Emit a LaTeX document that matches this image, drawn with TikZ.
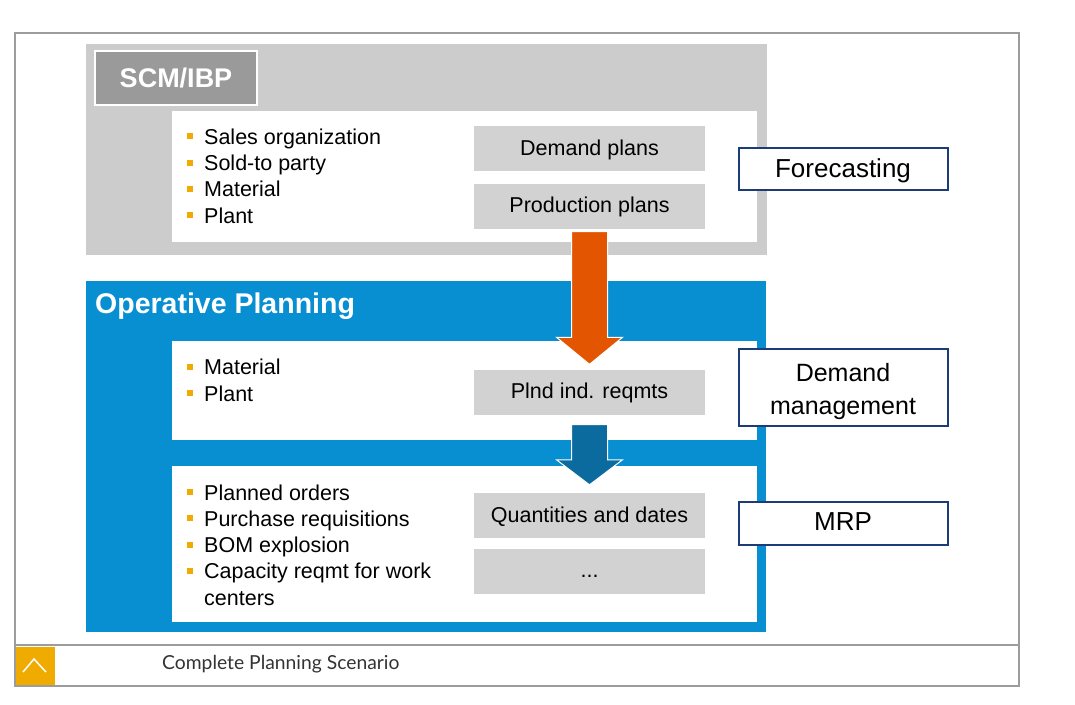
\documentclass[tikz,border=0pt]{standalone}
\usepackage{fontspec}
\setmainfont{Liberation Sans}
\newfontfamily\footfont{Lato}
\usetikzlibrary{calc}

\definecolor{scmgray}{HTML}{CCCCCC}
\definecolor{boxgray}{HTML}{D2D2D2}
\definecolor{labelgray}{HTML}{9A9A9A}
\definecolor{opblue}{HTML}{088FD1}
\definecolor{darkarrow}{HTML}{0B6B9F}
\definecolor{redarrow}{HTML}{E35500}
\definecolor{navy}{HTML}{1C3C78}
\definecolor{bulletgold}{HTML}{F0AB00}
\definecolor{framegray}{HTML}{9C9C9C}
\definecolor{foottext}{HTML}{333333}

% orange square bullet
\newcommand\bul{\makebox[17pt][l]{\color{bulletgold}\rule[5pt]{6pt}{6pt}}}

\begin{document}
\begin{tikzpicture}[x=1pt,y=-1pt,
    plan/.style={fill=boxgray, minimum width=231pt, minimum height=45pt,
        inner sep=0pt, text height=15.5pt, text depth=2pt,
        font=\fontsize{21.5}{26}\selectfont},
    role/.style={draw=navy, line width=2pt, fill=white, minimum width=209pt,
        inner sep=0pt, align=center, font=\fontsize{26}{33}\selectfont},
    items/.style={anchor=base west, inner sep=0pt, align=left,
        font=\fontsize{21.5}{26.2}\selectfont},
    bigarrow/.style={draw=white, line width=1pt}]
    \useasboundingbox (0,0) rectangle (1075,704);

    % frame and footer
    \draw[framegray, line width=1.5pt] (15,33) rectangle (1019,686);
    \draw[framegray, line width=1.5pt] (15,645) -- (1019,645);
    \fill[bulletgold] (16,647) rectangle (55,685);
    \draw[white, line width=1.5pt] (23,672) -- (34,659) -- (46,672);
    \node[anchor=west, inner sep=0pt, text=foottext,
        font=\footfont\fontsize{19.3}{21}\selectfont] (foot) at (162,664)
        {Complete Planning Scenario};

    % SCM/IBP block
    \fill[scmgray] (86,44) rectangle (767,255);
    \node[draw=white, line width=2pt, fill=labelgray, text=white,
        minimum width=162pt, minimum height=54pt, inner sep=0pt,
        font=\bfseries\fontsize{27}{30}\selectfont] (scm) at (176,78) {SCM/IBP};
    \fill[white] (172,111) rectangle (757,242);
    \node[items] (scmitems) at (187,223)
        {\bul Sales organization\\ \bul Sold-to party\\ \bul Material\\ \bul Plant};
    \node[plan] (dem) at (589.5,148.5) {Demand plans};
    \node[plan] (prod) at (589.5,206) {Production plans};

    % Operative planning block
    \fill[opblue] (86,281) rectangle (766,632);
    \node[anchor=base west, inner sep=0pt, text=white,
        font=\bfseries\fontsize{28.5}{32}\selectfont] (op) at (95,313.5)
        {Operative Planning};
    \fill[white] (172,341) rectangle (757,440);
    \node[items] (opitems) at (187,401) {\bul Material\\ \bul Plant};
    \node[plan] (plnd) at (589.5,392) {Plnd ind. reqmts};
    \fill[white] (172,466) rectangle (757,622);
    \node[items] (mrpitems) at (187,605)
        {\bul Planned orders\\ \bul Purchase requisitions\\ \bul BOM explosion\\
         \bul Capacity reqmt for work\\ \hspace*{17pt}centers};
    \node[plan] (qty) at (589.5,515.5) {Quantities and dates};
    \node[plan] (more) at (589.5,571) {...};

    % block arrows
    \draw[bigarrow, fill=redarrow]
        ($(prod.south)+(-18,3)$) -- ($(prod.south)+(18,3)$)
        -- ($(plnd.north)+(18,-32)$) -- ($(plnd.north)+(33,-32)$)
        -- ($(plnd.north)+(0,-5)$)
        -- ($(plnd.north)+(-33,-32)$) -- ($(plnd.north)+(-18,-32)$) -- cycle;
    \draw[bigarrow, fill=darkarrow]
        ($(plnd.south)+(-18,10)$) -- ($(plnd.south)+(18,10)$)
        -- ($(qty.north)+(18,-33)$) -- ($(qty.north)+(33,-33)$)
        -- ($(qty.north)+(0,-8)$)
        -- ($(qty.north)+(-33,-33)$) -- ($(qty.north)+(-18,-33)$) -- cycle;

    % roles
    \node[role, minimum height=42pt, text depth=2pt] (fc) at (843,169) {Forecasting};
    \node[role, minimum height=77pt] (dm) at (843,387) {};
    \node[inner sep=0pt, align=center, font=\fontsize{25}{33}\selectfont]
        (dmtext) at (843,392) {Demand\\management};
    \node[role, minimum height=43pt, text depth=2pt] (mrp) at (843,523) {MRP};
\end{tikzpicture}
\end{document}
